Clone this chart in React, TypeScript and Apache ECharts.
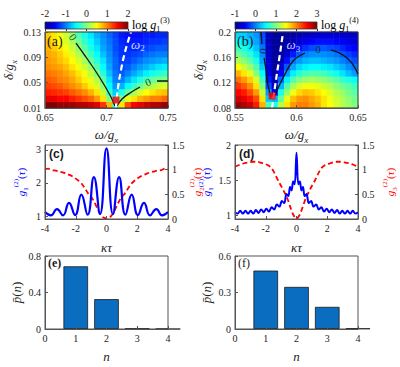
import React, { useEffect, useRef } from 'react';
import * as echarts from 'echarts';

const SERIF = '"Liberation Serif", "Times New Roman", serif';
const SANS = '"Liberation Sans", Arial, sans-serif';

// ---------- tick labels ----------
const A_X_TICKS = [0.65, 0.7, 0.75];
const A_Y_TICKS = [0.01, 0.05, 0.09, 0.13];
const B_X_TICKS = [0.55, 0.6, 0.65];
const B_Y_TICKS = [0.08, 0.12, 0.16, 0.2];
const CB_A_TICKS = [-2, -1, 0, 1, 2];
const CB_B_TICKS = [-1, 0, 1, 2, 3];
const TAU_TICKS = [-4, -2, 0, 2, 4];
const C_LEFT_TICKS = [1, 2, 3];
const D_LEFT_TICKS = [1, 1.5, 2];
const RIGHT_TICKS = [0, 0.5, 1, 1.5];
const N_TICKS = [0, 1, 2, 3, 4];
const E_Y_TICKS = [0, 0.4, 0.8];
const F_Y_TICKS = [0, 0.3, 0.6];

// ---------- heat map (a): log g1^(3), rows bottom (δ=0.015) -> top (δ=0.125), cols ω=0.6525..0.7475 ----------
const HEAT_A: number[][] = [
  [2.0, 2.0, 1.9, 1.9, 1.9, 1.8, 1.8, 1.7, 1.6, 1.3, 0.8, -0.3, 0.6, 1.2, 1.5, 1.6, 1.7, 1.8, 1.8, 1.9],
  [1.6, 1.6, 1.5, 1.5, 1.4, 1.3, 1.2, 1.1, 0.9, 0.6, 0.0, -0.5, 0.0, 0.4, 0.6, 0.8, 0.9, 1.0, 1.0, 1.1],
  [1.4, 1.35, 1.3, 1.25, 1.15, 1.05, 0.95, 0.8, 0.6, 0.3, -0.3, -0.7, -0.4, -0.1, 0.15, 0.35, 0.5, 0.6, 0.7, 0.75],
  [1.25, 1.2, 1.15, 1.05, 0.95, 0.85, 0.7, 0.55, 0.35, 0.05, -0.5, -0.9, -0.8, -0.5, -0.3, -0.1, 0.1, 0.2, 0.3, 0.35],
  [1.15, 1.1, 1.0, 0.95, 0.85, 0.7, 0.55, 0.4, 0.2, -0.15, -0.6, -1.0, -1.0, -0.8, -0.6, -0.4, -0.25, -0.1, -0.05, 0.0],
  [1.05, 1.0, 0.95, 0.85, 0.75, 0.6, 0.45, 0.25, 0.0, -0.35, -0.75, -1.05, -1.15, -1.0, -0.85, -0.7, -0.55, -0.45, -0.35, -0.3],
  [0.95, 0.9, 0.85, 0.75, 0.6, 0.45, 0.3, 0.1, -0.2, -0.5, -0.85, -1.1, -1.2, -1.15, -1.0, -0.9, -0.8, -0.7, -0.6, -0.55],
  [0.9, 0.85, 0.75, 0.65, 0.5, 0.35, 0.15, -0.1, -0.35, -0.6, -0.9, -1.1, -1.25, -1.25, -1.15, -1.05, -0.95, -0.9, -0.85, -0.8],
  [0.85, 0.8, 0.7, 0.55, 0.4, 0.2, 0.0, -0.25, -0.5, -0.75, -0.95, -1.15, -1.3, -1.3, -1.25, -1.2, -1.1, -1.05, -1.0, -1.0],
  [0.8, 0.7, 0.6, 0.45, 0.3, 0.05, -0.15, -0.4, -0.6, -0.85, -1.0, -1.2, -1.3, -1.35, -1.35, -1.3, -1.25, -1.2, -1.15, -1.15],
  [0.75, 0.65, 0.5, 0.35, 0.15, -0.05, -0.3, -0.5, -0.7, -0.9, -1.05, -1.2, -1.35, -1.4, -1.4, -1.4, -1.35, -1.3, -1.3, -1.25],
  [0.7, 0.6, 0.45, 0.3, 0.05, -0.2, -0.4, -0.6, -0.8, -0.95, -1.1, -1.25, -1.4, -1.45, -1.45, -1.45, -1.4, -1.4, -1.35, -1.35],
];

// ---------- heat map (b): log g1^(4), rows δ=0.085..0.195, cols ω=0.5525..0.6475 ----------
const HEAT_B: number[][] = [
  [2.9, 2.8, 2.7, 2.4, 1.8, 0.8, 0.6, 1.2, 1.6, 1.9, 2.0, 2.0, 1.9, 1.8, 1.6, 1.5, 1.35, 1.2, 1.1, 1.0],
  [2.7, 2.6, 2.45, 2.2, 1.6, 0.3, 0.2, 0.9, 1.4, 1.75, 1.9, 1.95, 1.85, 1.75, 1.6, 1.45, 1.3, 1.2, 1.05, 0.95],
  [2.5, 2.4, 2.2, 1.9, 1.3, 0.1, -0.6, 0.6, 1.1, 1.45, 1.65, 1.75, 1.7, 1.6, 1.5, 1.35, 1.2, 1.1, 0.95, 0.85],
  [2.3, 2.15, 1.95, 1.6, 1.0, -0.2, -0.8, 0.2, 0.8, 1.15, 1.35, 1.45, 1.45, 1.4, 1.3, 1.2, 1.05, 0.95, 0.85, 0.75],
  [2.05, 1.9, 1.7, 1.35, 0.75, -0.4, -0.85, -0.1, 0.45, 0.8, 1.0, 1.1, 1.15, 1.1, 1.05, 0.95, 0.85, 0.7, 0.6, 0.5],
  [1.8, 1.6, 1.4, 1.05, 0.5, -0.6, -0.9, -0.5, 0.1, 0.45, 0.65, 0.75, 0.8, 0.8, 0.75, 0.65, 0.55, 0.4, 0.25, 0.1],
  [1.5, 1.3, 1.1, 0.8, 0.3, -0.65, -0.95, -0.7, -0.15, 0.15, 0.35, 0.45, 0.5, 0.5, 0.45, 0.4, 0.3, 0.2, 0.05, -0.05],
  [1.2, 1.05, 0.85, 0.6, 0.15, -0.7, -0.95, -0.85, -0.45, -0.05, 0.1, 0.2, 0.25, 0.25, 0.2, 0.15, 0.1, 0.0, -0.1, -0.2],
  [0.95, 0.8, 0.65, 0.4, 0.05, -0.75, -0.95, -0.9, -0.7, -0.4, -0.15, 0.0, 0.05, 0.07, 0.05, 0.02, -0.05, -0.15, -0.25, -0.35],
  [0.7, 0.6, 0.45, 0.25, -0.05, -0.75, -0.95, -0.95, -0.85, -0.65, -0.45, -0.3, -0.2, -0.15, -0.15, -0.2, -0.25, -0.35, -0.45, -0.5],
  [0.5, 0.4, 0.3, 0.15, -0.15, -0.8, -0.95, -0.95, -0.9, -0.8, -0.7, -0.6, -0.5, -0.45, -0.45, -0.45, -0.5, -0.55, -0.6, -0.65],
  [0.35, 0.3, 0.2, 0.1, -0.2, -0.8, -0.95, -0.95, -0.95, -0.9, -0.85, -0.8, -0.75, -0.7, -0.7, -0.7, -0.7, -0.72, -0.75, -0.75],
];

// ---------- overlay curves (a) ----------
const A_CONTOUR_L: number[][] = [[0.6752, 0.1126], [0.685, 0.0858], [0.6947, 0.0574], [0.7028, 0.0305], [0.7069, 0.0132]];
const A_CONTOUR_R1: number[][] = [[0.7085, 0.0132], [0.7126, 0.0242], [0.7191, 0.0337], [0.7272, 0.0432]];
const A_CONTOUR_R2: number[][] = [[0.7411, 0.0526], [0.75, 0.0526]];
const A_OMEGA: number[][] = [[0.7077, 0.01], [0.7093, 0.0416], [0.7126, 0.0779], [0.7159, 0.1047], [0.7199, 0.13]];
const A_POINT: number[] = [0.7077, 0.0226];

// ---------- overlay curves (b) ----------
const B_CONTOUR_L1: number[][] = [[0.5711, 0.2], [0.572, 0.181]];
const B_CONTOUR_L2: number[][] = [[0.5736, 0.159], [0.5752, 0.14], [0.5768, 0.1163], [0.5793, 0.0974]];
const B_CONTOUR_R1: number[][] = [[0.5825, 0.1005], [0.589, 0.1274], [0.5972, 0.1542], [0.6069, 0.1668]];
const B_CONTOUR_R2: number[][] = [[0.628, 0.1716], [0.6378, 0.1637], [0.6451, 0.151], [0.65, 0.1337]];
const B_OMEGA: number[][] = [[0.5801, 0.08], [0.5833, 0.1242], [0.5858, 0.1558], [0.589, 0.1984]];
const B_POINT: number[] = [0.5801, 0.0989];

// ---------- (c) correlation functions ----------
const TAU_C_BLUE = [-4.0, -3.62, -3.22, -2.83, -2.44, -2.04, -1.64, -1.23, -0.82, -0.42, 0, 0.42, 0.82, 1.23, 1.64, 2.04, 2.44, 2.83, 3.24, 3.62, 4.0];
const G1_C = [1.12, 1.02, 1.21, 1.02, 1.4, 1.03, 1.65, 1.04, 2.18, 1.06, 3.05, 1.06, 2.18, 1.04, 1.65, 1.03, 1.4, 1.02, 1.21, 1.02, 1.12];
const TAU_C_RED = [-4, -3.8, -3.55, -3.3, -3.05, -2.8, -2.55, -2.3, -2.05, -1.8, -1.6, -1.4, -1.2, -1.0, -0.8, -0.6, -0.4, -0.2, 0,
  0.2, 0.4, 0.6, 0.8, 1.0, 1.2, 1.4, 1.6, 1.8, 2.05, 2.3, 2.55, 2.8, 3.05, 3.3, 3.55, 3.8, 4];
const G2_C = [1.01, 1.02, 0.99, 0.98, 0.96, 0.94, 0.91, 0.88, 0.83, 0.77, 0.71, 0.62, 0.52, 0.45, 0.35, 0.22, 0.1, 0.03, 0.01,
  0.03, 0.1, 0.22, 0.35, 0.45, 0.52, 0.62, 0.71, 0.77, 0.83, 0.88, 0.91, 0.94, 0.96, 0.98, 0.99, 1.02, 1.01];

// ---------- (d) correlation functions ----------
const TAU_D_BLUE = [-4, -3.83, -3.66, -3.49, -3.32, -3.15, -2.98, -2.81, -2.64, -2.47, -2.3, -2.13, -1.96, -1.79, -1.62, -1.45, -1.28, -1.11, -0.95, -0.8, -0.65, -0.53, -0.42, -0.32, -0.22, -0.12, 0,
  0.12, 0.22, 0.32, 0.42, 0.53, 0.65, 0.8, 0.95, 1.11, 1.28, 1.45, 1.62, 1.79, 1.96, 2.13, 2.3, 2.47, 2.64, 2.81, 2.98, 3.15, 3.32, 3.49, 3.66, 3.83, 4];
const G1_D = [1.04, 1.02, 1.06, 1.02, 1.06, 1.02, 1.06, 1.02, 1.07, 1.03, 1.08, 1.04, 1.09, 1.05, 1.11, 1.08, 1.15, 1.12, 1.2, 1.17, 1.3, 1.27, 1.4, 1.35, 1.48, 1.44, 1.89,
  1.44, 1.48, 1.35, 1.4, 1.27, 1.3, 1.17, 1.2, 1.12, 1.15, 1.08, 1.11, 1.05, 1.09, 1.04, 1.08, 1.03, 1.07, 1.02, 1.06, 1.02, 1.06, 1.02, 1.06, 1.02, 1.04];
const TAU_D_RED = [-4, -3.7, -3.4, -3.1, -2.85, -2.6, -2.4, -2.2, -2.0, -1.8, -1.65, -1.5, -1.35, -1.2, -1.0, -0.8, -0.6, -0.4, -0.2, 0,
  0.2, 0.4, 0.6, 0.8, 1.0, 1.2, 1.35, 1.5, 1.65, 1.8, 2.0, 2.2, 2.4, 2.6, 2.85, 3.1, 3.4, 3.7, 4];
const G3_D = [1.06, 1.1, 1.13, 1.15, 1.16, 1.16, 1.15, 1.13, 1.11, 1.08, 1.04, 0.97, 0.88, 0.78, 0.67, 0.55, 0.42, 0.24, 0.08, 0.01,
  0.08, 0.24, 0.42, 0.55, 0.67, 0.78, 0.88, 0.97, 1.04, 1.08, 1.11, 1.13, 1.15, 1.16, 1.16, 1.15, 1.13, 1.1, 1.06];

// ---------- (e), (f) photon number distributions ----------
const N_VALUES = [1, 2, 3, 4];
const P_E = [0.687, 0.327, 0.003, 0.0];
const P_F = [0.48, 0.346, 0.182, 0.004];

// ---------- layout / style ----------
const JET = ['#00008F', '#0000FF', '#0080FF', '#00FFFF', '#80FF80', '#FFFF00', '#FF8000', '#FF0000', '#800000'];
const AX = '#555';
const TXT = '#222';
const L1 = 45, L2 = 235, PW = 123;
const TA = 32, HA = 76;
const TC = 145, HC = 74;
const TE = 256, HE = 73;
const CBT = 22, CBH = 7, CBW = 83;

function rich(size: number) {
  return {
    i: { fontFamily: SERIF, fontStyle: 'italic', fontSize: size, lineHeight: size + 6 },
    n: { fontFamily: SERIF, fontSize: size, lineHeight: size + 6 },
    sub: { fontFamily: SERIF, fontStyle: 'italic', fontSize: Math.round(size * 0.68), verticalAlign: 'bottom' },
    subn: { fontFamily: SERIF, fontSize: Math.round(size * 0.68), verticalAlign: 'bottom' },
    sup: { fontFamily: SERIF, fontSize: Math.round(size * 0.62), verticalAlign: 'top' },
  };
}

function valAxis(gridIndex: number, min: number, max: number, ticks: number[], extra: any = {}) {
  return {
    type: 'value', gridIndex, min, max, z: 10,
    axisLine: { show: true, onZero: false, lineStyle: { color: AX, width: 1 } },
    axisTick: { show: true, inside: true, length: 3, customValues: ticks, lineStyle: { color: AX } },
    axisLabel: { customValues: ticks, color: TXT, fontFamily: SERIF, fontSize: 10, margin: 4 },
    splitLine: { show: false },
    ...extra,
  };
}

function catAxis(gridIndex: number, n: number) {
  return { type: 'category', gridIndex, show: false, data: Array.from({ length: n }, (_, i) => i) };
}

function heatData(m: number[][]) {
  const out: number[][] = [];
  m.forEach((row, j) => row.forEach((v, i) => out.push([i, j, v])));
  return out;
}

function pairs(xs: number[], ys: number[]) {
  return xs.map((x, k) => [x, ys[k]]);
}

function gradient() {
  return new echarts.graphic.LinearGradient(0, 0, 1, 0, JET.map((c, k) => ({ offset: k / (JET.length - 1), color: c })));
}

function buildOption(): any {
  const frame = { show: true, borderColor: AX, borderWidth: 1, backgroundColor: 'transparent' };
  const grids = [
    { left: L1, top: TA, width: PW, height: HA },
    { left: L1, top: TA, width: PW, height: HA, ...frame, borderColor: '#333', z: 8 },
    { left: L2, top: TA, width: PW, height: HA },
    { left: L2, top: TA, width: PW, height: HA, ...frame, borderColor: '#333', z: 8 },
    { left: L1, top: TC, width: PW, height: HC, ...frame },
    { left: L2, top: TC, width: PW, height: HC, ...frame },
    { left: L1, top: TE, width: PW, height: HE, ...frame },
    { left: L2, top: TE, width: PW, height: HE, ...frame },
    { left: L1, top: CBT, width: CBW, height: CBH, show: true, borderColor: '#333', borderWidth: 0.8, backgroundColor: gradient() },
    { left: L2, top: CBT, width: CBW - 1, height: CBH, show: true, borderColor: '#333', borderWidth: 0.8, backgroundColor: gradient() },
  ];

  const r13 = rich(13);
  const r11 = rich(11);
  const omegaName = { name: '{i|ω/g}{sub|x}', nameLocation: 'middle', nameGap: 17, nameTextStyle: { color: TXT, rich: r13 } };
  const deltaName = { name: '{i|δ/g}{sub|x}', nameLocation: 'middle', nameGap: 27, nameRotate: 90, nameTextStyle: { color: TXT, rich: r13 } };
  const kappaName = { name: '{i|κτ}', nameLocation: 'middle', nameGap: 19, nameTextStyle: { color: TXT, rich: r13 } };
  const nName = { name: '{i|n}', nameLocation: 'middle', nameGap: 18, nameTextStyle: { color: TXT, rich: r13 } };
  const pName = { name: '{i|p\u0304}{n|(}{i|n}{n|)}', nameLocation: 'middle', nameGap: 19, nameRotate: 90, nameTextStyle: { color: TXT, rich: r13 } };
  const g1Name = { name: '{i|g}{subn|1}{sup|(2)}{n|(}{i|τ}{n|)}', nameLocation: 'middle', nameRotate: 90, nameTextStyle: { color: '#0000ff', rich: r11 } };
  const g2Name = { name: '{i|g}{subn|2}{sup|(2)}{n|(}{i|τ}{n|)}', nameLocation: 'middle', nameRotate: 90, nameTextStyle: { color: '#ff0000', rich: r11 } };
  const g3Name = { name: '{i|g}{subn|3}{sup|(2)}{n|(}{i|τ}{n|)}', nameLocation: 'middle', nameRotate: 90, nameTextStyle: { color: '#ff0000', rich: r11 } };

  const cbAxis = (gridIndex: number, min: number, max: number, ticks: number[]) => ({
    type: 'value', gridIndex, min, max, position: 'top', z: 10,
    axisLine: { show: false },
    axisTick: { show: true, inside: true, length: 2, customValues: ticks, lineStyle: { color: '#333' } },
    axisLabel: { customValues: ticks, color: TXT, fontFamily: SERIF, fontSize: 10, margin: 4 },
    splitLine: { show: false },
  });

  const xAxis = [
    catAxis(0, HEAT_A[0].length),
    valAxis(1, 0.65, 0.75, A_X_TICKS, omegaName),
    catAxis(2, HEAT_B[0].length),
    valAxis(3, 0.55, 0.65, B_X_TICKS, omegaName),
    valAxis(4, -4, 4, TAU_TICKS, kappaName),
    valAxis(5, -4, 4, TAU_TICKS, kappaName),
    valAxis(6, 0, 4, N_TICKS, nName),
    valAxis(7, 0, 4, N_TICKS, nName),
    cbAxis(8, -2, 2, CB_A_TICKS),
    cbAxis(9, -1, 3, CB_B_TICKS),
  ];
  const yAxis = [
    catAxis(0, HEAT_A.length),
    valAxis(1, 0.01, 0.13, A_Y_TICKS, deltaName),
    catAxis(2, HEAT_B.length),
    valAxis(3, 0.08, 0.2, B_Y_TICKS, deltaName),
    valAxis(4, 0.91, 3.15, C_LEFT_TICKS, { ...g1Name, nameGap: 16 }),
    valAxis(4, 0, 1.5, RIGHT_TICKS, { ...g2Name, position: 'right', nameGap: 16 }),
    valAxis(5, 0.943, 2.0, D_LEFT_TICKS, { ...g1Name, nameGap: 14 }),
    valAxis(5, 0, 1.5, RIGHT_TICKS, { ...g3Name, position: 'right', nameGap: 23 }),
    valAxis(6, 0, 0.8, E_Y_TICKS, pName),
    valAxis(7, 0, 0.6, F_Y_TICKS, pName),
    { type: 'value', gridIndex: 8, show: false, min: 0, max: 1 },
    { type: 'value', gridIndex: 9, show: false, min: 0, max: 1 },
  ];

  const contour = (xi: number, yi: number, data: number[][]) => ({
    type: 'line', xAxisIndex: xi, yAxisIndex: yi, data, smooth: 0.4, symbol: 'none', z: 5,
    lineStyle: { color: '#111', width: 1.3 }, silent: true,
  });
  const omega = (xi: number, yi: number, data: number[][]) => ({
    type: 'line', xAxisIndex: xi, yAxisIndex: yi, data, smooth: 0.4, symbol: 'none', z: 6,
    lineStyle: { color: '#ffffff', width: 2.2, type: [6, 3.5] }, silent: true,
  });
  const marker = (xi: number, yi: number, p: number[]) => ({
    type: 'scatter', xAxisIndex: xi, yAxisIndex: yi, data: [p], symbol: 'rect', symbolSize: 7, z: 7,
    itemStyle: { color: '#ff0000' }, silent: true,
  });
  const textMarks = (xi: number, yi: number, items: any[]) => ({
    type: 'scatter', xAxisIndex: xi, yAxisIndex: yi, symbolSize: 0, z: 8, silent: true,
    label: { show: true, position: 'inside', color: '#111', fontFamily: SERIF, fontSize: 11 },
    data: items,
  });
  const omegaRich = { w: { fontFamily: SERIF, fontStyle: 'italic', fontSize: 13, color: '#fff', lineHeight: 17 }, s: { fontFamily: SERIF, fontSize: 9, color: '#fff', verticalAlign: 'bottom' } };

  const series: any[] = [
    { type: 'heatmap', xAxisIndex: 0, yAxisIndex: 0, data: heatData(HEAT_A), silent: true, itemStyle: { borderWidth: 0 } },
    { type: 'heatmap', xAxisIndex: 2, yAxisIndex: 2, data: heatData(HEAT_B), silent: true, itemStyle: { borderWidth: 0 } },
    contour(1, 1, A_CONTOUR_L),
    contour(1, 1, A_CONTOUR_R1),
    contour(1, 1, A_CONTOUR_R2),
    omega(1, 1, A_OMEGA),
    marker(1, 1, A_POINT),
    textMarks(1, 1, [
      { value: [0.6728, 0.1221], label: { formatter: '0', rotate: -57 } },
      { value: [0.7337, 0.051], label: { formatter: '0', rotate: 20 } },
      { value: [0.7255, 0.111], label: { formatter: '{w|ω}{s|2}', rich: omegaRich } },
    ]),
    contour(3, 3, B_CONTOUR_L1),
    contour(3, 3, B_CONTOUR_L2),
    contour(3, 3, B_CONTOUR_R1),
    contour(3, 3, B_CONTOUR_R2),
    omega(3, 3, B_OMEGA),
    marker(3, 3, B_POINT),
    textMarks(3, 3, [
      { value: [0.5728, 0.17], label: { formatter: '0', rotate: 82 } },
      { value: [0.6175, 0.1732], label: { formatter: '0', rotate: 0 } },
      { value: [0.5975, 0.1795], label: { formatter: '{w|ω}{s|3}', rich: omegaRich } },
    ]),
    { type: 'line', xAxisIndex: 4, yAxisIndex: 5, data: pairs(TAU_C_RED, G2_C), smooth: 0.3, symbol: 'none', z: 4,
      lineStyle: { color: '#ff0000', width: 1.8, type: [5, 3] } },
    { type: 'line', xAxisIndex: 4, yAxisIndex: 4, data: pairs(TAU_C_BLUE, G1_C), smooth: 0.5, symbol: 'none', z: 5,
      lineStyle: { color: '#0000ff', width: 2.2 } },
    { type: 'line', xAxisIndex: 5, yAxisIndex: 7, data: pairs(TAU_D_RED, G3_D), smooth: 0.3, symbol: 'none', z: 4,
      lineStyle: { color: '#ff0000', width: 1.8, type: [5, 3] } },
    { type: 'line', xAxisIndex: 5, yAxisIndex: 6, data: pairs(TAU_D_BLUE, G1_D), smooth: 0.4, symbol: 'none', z: 5,
      lineStyle: { color: '#0000ff', width: 2 } },
    { type: 'bar', xAxisIndex: 6, yAxisIndex: 8, data: pairs(N_VALUES, P_E), barWidth: (PW / 4) * 0.8,
      itemStyle: { color: '#0B6DC0', borderColor: '#1a1a1a', borderWidth: 0.8 } },
    { type: 'bar', xAxisIndex: 7, yAxisIndex: 9, data: pairs(N_VALUES, P_F), barWidth: (PW / 4) * 0.8,
      itemStyle: { color: '#0B6DC0', borderColor: '#1a1a1a', borderWidth: 0.8 } },
  ];

  const cbRich = {
    n: { fontFamily: SERIF, fontSize: 12, lineHeight: 17, color: TXT },
    i: { fontFamily: SERIF, fontStyle: 'italic', fontSize: 12, lineHeight: 17, color: TXT },
    sub: { fontFamily: SERIF, fontSize: 8, verticalAlign: 'bottom', color: TXT },
    sup: { fontFamily: SERIF, fontSize: 8, verticalAlign: 'top', color: TXT },
  };
  const panel = (text: string, left: number, top: number, font: string) => ({
    type: 'text', left, top, z: 30, silent: true, style: { text, font, fill: '#1a1a1a' },
  });

  const graphic = [
    { type: 'text', left: L1 + CBW + 4, top: CBT - 6, z: 30, style: { text: '{n|log }{i|g}{sub|1}{sup|(3)}', rich: cbRich } },
    { type: 'text', left: L2 + CBW + 3, top: CBT - 6, z: 30, style: { text: '{n|log }{i|g}{sub|1}{sup|(4)}', rich: cbRich } },
    panel('(a)', L1 + 2, TA + 2, `14px ${SERIF}`),
    panel('(b)', L2 + 2, TA + 2, `14px ${SERIF}`),
    panel('(c)', L1 + 4, TC + 3, `bold 12px ${SANS}`),
    panel('(d)', L2 + 4, TC + 3, `bold 12px ${SANS}`),
    panel('(e)', L1 + 3, TE + 1, `bold 12px ${SERIF}`),
    panel('(f)', L2 + 3, TE + 1, `12px ${SERIF}`),
  ];

  return {
    animation: false,
    backgroundColor: '#ffffff',
    grid: grids,
    xAxis,
    yAxis,
    visualMap: [
      { type: 'continuous', show: false, seriesIndex: 0, min: -2, max: 2, inRange: { color: JET } },
      { type: 'continuous', show: false, seriesIndex: 1, min: -1, max: 3, inRange: { color: JET } },
    ],
    series,
    graphic,
  };
}

export default function App() {
  const ref = useRef<HTMLDivElement>(null);
  useEffect(() => {
    document.body.style.margin = '0';
    const chart = echarts.init(ref.current!, null, { renderer: 'svg' });
    chart.setOption(buildOption());
    return () => chart.dispose();
  }, []);
  return <div ref={ref} style={{ width: 400, height: 367 }} />;
}
